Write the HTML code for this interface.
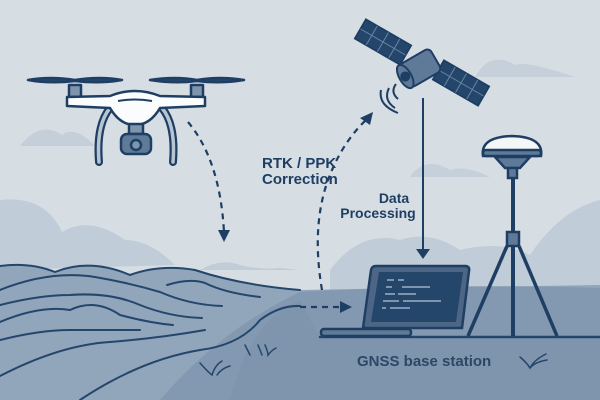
<!DOCTYPE html>
<html><head><style>body{margin:0}svg{display:block}</style></head><body>
<svg width="600" height="400" viewBox="0 0 600 400" xmlns="http://www.w3.org/2000/svg" font-family="Liberation Sans, sans-serif">
<rect width="600" height="400" fill="#d6dee4"/>
<!-- clouds -->
<path d="M20 146 Q40 120 62 135 Q75 125 95 146 Z" fill="#c4cfd9"/>
<path d="M475 77 Q490 50 515 65 Q525 60 575 77 Z" fill="#c6d0da"/>
<path d="M410 177 Q425 155 450 170 Q465 165 490 177 Z" fill="#c6d0da"/>
<!-- background hills -->
<path d="M0 200 Q45 195 62 232 Q90 215 125 240 Q150 240 175 265 L0 270 Z" fill="#c0ccd7"/>
<path d="M200 270 Q220 258 240 265 Q260 270 280 268 L300 270Z" fill="#c0ccd7"/>
<path d="M330 270 Q360 230 400 240 Q430 230 460 250 Q500 240 530 255 Q560 210 600 200 L600 290 L330 290 Z" fill="#c0ccd7"/>
<!-- terrain -->
<path d="M0 266 Q30 262 55 272 Q90 258 130 275 Q160 262 195 270 Q240 285 300 290 L600 285 L600 400 L0 400 Z" fill="#91a5bb"/>
<path d="M300 292 Q450 283 600 288 L600 400 L160 400 Q220 330 300 292 Z" fill="#8399b1"/>
<path d="M230 400 Q250 320 300 300 L320 337 L600 337 L600 400Z" fill="#7f95ad"/>
<g fill="none" stroke="#24466b" stroke-width="2" stroke-linecap="round">
<path d="M0 266 Q30 262 55 272 Q90 258 130 275 Q160 264 195 270 Q240 285 300 290"/>
<path d="M0 290 Q50 270 95 277 Q130 283 160 292 Q190 305 222 306"/>
<path d="M0 305 Q40 295 70 295 Q110 292 140 305 Q170 317 202 318"/>
<path d="M0 322 Q40 305 70 310 Q95 298 120 315 Q150 323 173 325"/>
<path d="M0 340 Q40 330 70 330 Q100 330 140 330"/>
<path d="M0 376 Q60 345 110 342 Q160 338 205 330"/>
<path d="M80 400 Q140 360 200 350 Q240 345 260 320 Q280 305 300 306"/>
<path d="M167 285 Q190 278 205 283 Q225 293 260 297"/>
<path d="M320 337 L600 337" stroke-width="2.5"/>
<path d="M200 363 Q208 372 212 375 Q215 365 222 361 M217 375 Q222 368 230 366 M245 345 L250 355 M258 345 L262 355 M265 345 Q268 352 268 355 Q272 350 276 348" stroke-width="1.5"/>
<path d="M520 357 Q527 363 530 368 Q534 360 546 354 M530 368 Q535 362 547 360" stroke-width="1.5"/>
</g>
<!-- dashed connectors -->
<g fill="none" stroke="#1f3e63" stroke-width="2.2" stroke-dasharray="6 5">
<path d="M188 122 Q220 160 224 232"/>
<path d="M322 290 Q310 220 332 170 Q345 140 366 120"/>
<path d="M300 307 L340 307"/>
</g>
<g fill="#1f3e63">
<path d="M218 230 L230 230 L224 242Z"/>
<path d="M360 118 L373 112 L370 125Z"/>
<path d="M340 301 L352 307 L340 313Z"/>
</g>
<!-- vertical data line -->
<line x1="423" y1="98" x2="423" y2="252" stroke="#1f3e63" stroke-width="2"/>
<path d="M416 249 L430 249 L423 259Z" fill="#1f3e63"/>
<!-- drone -->
<g fill="none" stroke-linecap="round">
<path d="M110 108 Q96 125 99 162" stroke="#1f3e63" stroke-width="8"/>
<path d="M110 108 Q96 125 99 162" stroke="#b7c4d1" stroke-width="3.5"/>
<path d="M162 108 Q176 125 173 162" stroke="#1f3e63" stroke-width="8"/>
<path d="M162 108 Q176 125 173 162" stroke="#b7c4d1" stroke-width="3.5"/>
</g>
<g stroke="#1f3e63" stroke-width="2.5" stroke-linejoin="round">
<path d="M28 80 Q50 76 75 80 Q100 76 122 80 Q100 84 75 81 Q50 84 28 80Z" fill="#24466b"/>
<path d="M150 80 Q175 76 197 80 Q220 76 244 80 Q220 84 197 81 Q175 84 150 80Z" fill="#24466b"/>
<rect x="69" y="85" width="12" height="12" fill="#7f95ad"/>
<rect x="191" y="85" width="12" height="12" fill="#7f95ad"/>
<path d="M67 97 L110 96 Q135 86 160 96 L205 97 L205 106 L160 108 Q150 125 135 125 Q120 125 110 108 L67 106Z" fill="#fafcfd"/>
<rect x="129" y="124" width="14" height="10" fill="#7f95ad"/>
<rect x="121" y="134" width="30" height="20" rx="6" fill="#5f7a98"/>
<circle cx="136" cy="145" r="5" fill="#7f95ad"/>
</g>
<path d="M118 101 Q135 98 152 101" stroke="#1f3e63" stroke-width="2" fill="none"/>
<!-- satellite -->
<g stroke="#1f3e63" stroke-width="2">
<g transform="translate(383,42) rotate(30)"><rect x="-26" y="-11" width="52" height="22" fill="#24466b"/><path d="M-13 -11v22M0 -11v22M13 -11v22M-26 0h52" stroke="#6a85a3" stroke-width="1"/></g>
<g transform="translate(461,83) rotate(30)"><rect x="-26" y="-11" width="52" height="22" fill="#24466b"/><path d="M-13 -11v22M0 -11v22M13 -11v22M-26 0h52" stroke="#6a85a3" stroke-width="1"/></g>
<g transform="translate(420,68) rotate(-30)"><rect x="-18" y="-13" width="36" height="26" rx="5" fill="#5f7a98"/><ellipse cx="-17" cy="0" rx="6" ry="13" fill="#5f7a98"/><circle cx="-17" cy="0" r="4" fill="#1f3e63"/></g>
</g>
<g fill="none" stroke="#1f3e63" stroke-width="2">
<path d="M396 84 Q390 92 398 99"/><path d="M389 88 Q383 100 395 108"/><path d="M381 90 Q378 105 398 113"/>
</g>
<!-- antenna -->
<g stroke="#1f3e63" stroke-width="2.5" fill="#5f7a98">
<path d="M483 156 Q480 137 512 136 Q544 137 541 156Z" fill="#f4f6f8"/>
<rect x="483" y="150" width="58" height="6" rx="3"/>
<path d="M495 157 L530 157 L520 168 L505 168Z"/>
<rect x="508" y="168" width="9" height="10"/>
<line x1="513" y1="178" x2="513" y2="336" stroke-width="4"/>
<rect x="507" y="232" width="12" height="14"/>
<line x1="507" y1="246" x2="468" y2="336" stroke-width="3.5"/>
<line x1="519" y1="246" x2="557" y2="336" stroke-width="3.5"/>
</g>
<!-- laptop -->
<g stroke="#1f3e63" stroke-width="2.5">
<path d="M376 266 L466 266 Q470 267 469 271 L462 328 L363 328 L371 270 Q372 266 376 266Z" fill="#4d6685"/>
<path d="M379 272 L463 272 L456 322 L371 322Z" fill="#24466b" stroke="none"/>
<rect x="321" y="329" width="90" height="7" rx="3" fill="#5f7a98"/>
</g>
<g stroke="#7f95ad" stroke-width="2">
<path d="M387 280h7M398 280h6M386 287h6M402 287h28M385 294h10M398 294h18M383 301h16M403 301h38M382 308h4M390 308h20"/>
</g>
<!-- labels -->
<g fill="#1f3e63" font-weight="bold" font-size="15">
<text x="262" y="168">RTK / PPK</text>
<text x="262" y="184">Correction</text>
<text x="394" y="203" text-anchor="middle" font-size="14">Data</text>
<text x="378" y="218" text-anchor="middle" font-size="14">Processing</text>
<text x="357" y="366" fill="#2c4866">GNSS base station</text>
</g>
</svg>
</body></html>
